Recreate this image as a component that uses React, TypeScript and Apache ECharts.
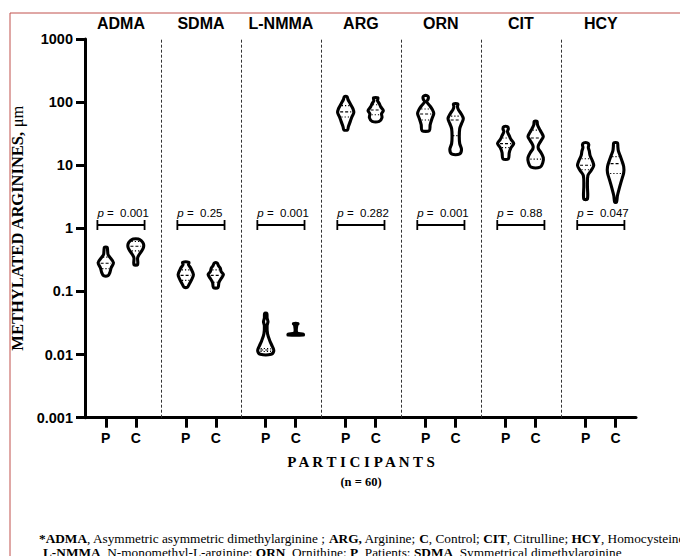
import React, { useEffect, useRef } from "react";
import * as echarts from "echarts";

// ---------- data ----------
const GROUPS = ["ADMA", "SDMA", "L-NMMA", "ARG", "ORN", "CIT", "HCY"];
const SIDES = ["P", "C"];
const P_VALUES = ["0.001", "0.25", "0.001", "0.282", "0.001", "0.88", "0.047"];
const Y_TICKS = [0.001, 0.01, 0.1, 1, 10, 100, 1000];
const Y_TICK_LABELS = ["0.001", "0.01", "0.1", "1", "10", "100", "1000"];

// violin outlines: [value (µm), relative density 0..1], top to bottom
const ADMA_P = [[0.5, 0.15], [0.443, 0.2], [0.383, 0.25], [0.356, 0.4], [0.286, 0.85], [0.238, 0.6], [0.199, 0.45], [0.178, 0.25]];
const ADMA_C = [[0.679, 0.3], [0.638, 0.6], [0.572, 0.85], [0.494, 0.85], [0.427, 0.6], [0.369, 0.3], [0.338, 0.2], [0.266, 0.2]];
const SDMA_P = [[0.289, 0.35], [0.266, 0.3], [0.235, 0.55], [0.185, 0.85], [0.154, 0.65], [0.128, 0.35], [0.117, 0.2]];
const SDMA_C = [[0.283, 0.15], [0.256, 0.3], [0.235, 0.5], [0.206, 0.6], [0.185, 0.85], [0.16, 0.6], [0.138, 0.35], [0.115, 0.25]];
const LNMMA_P = [[0.045, 0.12], [0.0379, 0.15], [0.0332, 0.25], [0.0287, 0.15], [0.0214, 0.2], [0.0166, 0.45], [0.0133, 0.75], [0.0115, 0.9], [0.0101, 0.6]];
const LNMMA_C = [[0.031, 0.25], [0.029, 0.12], [0.0222, 0.12], [0.021, 0.85], [0.0204, 0.85]];
const ARG_P = [[122, 0.15], [110, 0.25], [94.6, 0.5], [78.9, 0.8], [68.2, 0.9], [58.9, 0.7], [49.1, 0.5], [40.9, 0.3], [36.3, 0.2]];
const ARG_C = [[116.6, 0.25], [105.6, 0.2], [94.6, 0.4], [84.8, 0.55], [73.3, 0.85], [65.7, 0.65], [56.8, 0.7], [49.6, 0.4]];
const ORN_P = [[126.8, 0.15], [120, 0.3], [109.6, 0.25], [101.9, 0.1], [88, 0.45], [76.1, 0.75], [65.8, 0.9], [54.7, 0.7], [44, 0.5], [35.3, 0.4]];
const ORN_C = [[93.6, 0.25], [84.9, 0.2], [76.1, 0.3], [65.7, 0.6], [54.8, 0.85], [45.6, 0.65], [38, 0.45], [28.4, 0.4], [22, 0.45], [17.7, 0.65], [15, 0.4]];
const CIT_P = [[40.9, 0.2], [38, 0.3], [34.1, 0.2], [29.4, 0.4], [25.5, 0.6], [22, 0.9], [19, 0.6], [15.8, 0.4], [12.6, 0.3]];
const CIT_C = [[49.6, 0.15], [44, 0.2], [38, 0.4], [32.9, 0.65], [28.4, 0.85], [24.5, 0.6], [20.5, 0.3], [18.3, 0.3], [15.8, 0.6], [13.2, 0.85], [11, 0.8], [9.33, 0.5]];
const HCY_P = [[22.6, 0.2], [21.2, 0.35], [19, 0.3], [17, 0.4], [14.2, 0.5], [11.8, 0.75], [9.86, 0.9], [8.2, 0.6], [6.84, 0.25], [4.75, 0.2], [2.92, 0.2]];
const HCY_C = [[22.6, 0.2], [19.7, 0.25], [17, 0.3], [14.2, 0.5], [11.8, 0.7], [9.5, 0.9], [7.63, 0.9], [5.7, 0.65], [4.26, 0.4], [3.29, 0.2], [2.6, 0.1]];

const VIOLIN_PROFILES = [ADMA_P, ADMA_C, SDMA_P, SDMA_C, LNMMA_P, LNMMA_C, ARG_P, ARG_C, ORN_P, ORN_C, CIT_P, CIT_C, HCY_P, HCY_C];
// [q1, median, q3]
const VIOLIN_STATS = [
  [0.23, 0.28, 0.35], [0.44, 0.52, 0.62],
  [0.15, 0.18, 0.22], [0.14, 0.18, 0.22],
  [0.0112, 0.0118, 0.0125], [0.0205, 0.0205, 0.0205],
  [58, 70, 88], [63, 75, 91],
  [52, 65, 78], [29.5, 52, 60],
  [19, 22, 27], [12.5, 27, 36],
  [8.5, 10, 12.7], [7.4, 10.6, 13.7],
];

// ---------- layout constants ----------
const P_OFFSET = 0.31;
const C_OFFSET = 0.685;
const X_MIN = 0.05;
const X_MAX = 6.94;
const BRACKET_VALUE = 1.13;
const PTEXT_VALUE = 1.73;
const MAX_HALF = 9;
const SANS = "'Liberation Sans', Arial, Helvetica, sans-serif";
const SERIF = "'Liberation Serif', 'Times New Roman', serif";

const TICK_POS = GROUPS.flatMap((_, i) => [i + P_OFFSET, i + C_OFFSET]);
const GROUP_CENTERS = GROUPS.map((_, i) => i + 0.5);

function halfAt(profile: number[][], v: number) {
  const lv = Math.log10(v);
  for (let i = 0; i < profile.length - 1; i++) {
    const a = Math.log10(profile[i][0]);
    const b = Math.log10(profile[i + 1][0]);
    if (lv <= a && lv >= b) {
      const t = a === b ? 0 : (a - lv) / (a - b);
      return profile[i][1] + t * (profile[i + 1][1] - profile[i][1]);
    }
  }
  return 0;
}

export default function App() {
  const ref = useRef<HTMLDivElement>(null);
  useEffect(() => {
    if (!ref.current) return;
    const chart = echarts.init(ref.current, undefined, { renderer: "svg" });
    const violinData = GROUPS.flatMap((_, g) => SIDES.map((_, s) => [g + (s === 0 ? P_OFFSET : C_OFFSET), g, s]));
    const option: any = {
      animation: false,
      backgroundColor: "#fff",
      grid: { left: 85, right: 44, top: 39, bottom: 138.3, containLabel: false },
      xAxis: [
        {
          type: "value",
          min: X_MIN,
          max: X_MAX,
          position: "bottom",
          axisLine: { show: true, onZero: false, lineStyle: { color: "#000", width: 3 } },
          axisTick: { show: true, customValues: TICK_POS, length: 10, lineStyle: { color: "#000", width: 3 } },
          axisLabel: {
            customValues: TICK_POS,
            formatter: (v: number) => (v - Math.floor(v) < 0.5 ? SIDES[0] : SIDES[1]),
            fontFamily: SANS,
            fontWeight: "bold",
            fontSize: 14,
            color: "#000",
            margin: 13,
          },
          splitLine: { show: false },
        },
        {
          type: "value",
          min: X_MIN,
          max: X_MAX,
          position: "top",
          axisLine: { show: false },
          axisTick: { show: false },
          axisLabel: {
            customValues: GROUP_CENTERS,
            formatter: (v: number) => GROUPS[Math.floor(v)],
            fontFamily: SANS,
            fontWeight: "bold",
            fontSize: 16,
            color: "#000",
            margin: 8,
          },
          splitLine: { show: false },
        },
      ],
      yAxis: {
        type: "log",
        logBase: 10,
        min: 0.001,
        max: 1000,
        axisLine: { show: true, lineStyle: { color: "#000", width: 3 } },
        axisTick: { show: true, customValues: Y_TICKS, length: 9, lineStyle: { color: "#000", width: 3 } },
        axisLabel: {
          customValues: Y_TICKS,
          formatter: (v: number) => {
            const k = Y_TICKS.findIndex((t) => Math.abs(Math.log10(t) - Math.log10(v)) < 1e-6);
            return k >= 0 ? Y_TICK_LABELS[k] : String(v);
          },
          fontFamily: SANS,
          fontWeight: "bold",
          fontSize: 14.5,
          color: "#000",
          margin: 12,
        },
        splitLine: { show: false },
        name: "{b|METHYLATED ARGININES, }{r|μm}",
        nameLocation: "middle",
        nameRotate: 90,
        nameGap: 54,
        nameTextStyle: {
          rich: {
            b: { fontFamily: SERIF, fontWeight: "bold", fontSize: 16.5, color: "#000" },
            r: { fontFamily: SERIF, fontWeight: "normal", fontSize: 16.5, color: "#000" },
          },
        },
      },
      series: [
        {
          type: "custom",
          xAxisIndex: 0,
          data: violinData,
          renderItem: (params: any, api: any) => {
            const i = params.dataIndex;
            const prof = VIOLIN_PROFILES[i];
            const xv = api.value(0);
            const xc = api.coord([xv, 1])[0];
            const right = prof.map(([v, d]) => [xc + d * MAX_HALF, api.coord([xv, v])[1]]);
            const left = prof.map(([v, d]) => [xc - d * MAX_HALF, api.coord([xv, v])[1]]).reverse();
            const children: any[] = [
              {
                type: "polygon",
                shape: { points: [...right, ...left], smooth: 0.3 },
                style: { fill: "#fff", stroke: "#000", lineWidth: 3.1, lineJoin: "round" },
              },
            ];
            VIOLIN_STATS[i].forEach((v, k) => {
              const hw = halfAt(prof, v) * MAX_HALF * 0.7;
              if (hw < 2) return;
              const y = api.coord([xv, v])[1];
              children.push({
                type: "line",
                shape: { x1: xc - hw, y1: y, x2: xc + hw, y2: y },
                style: { stroke: "#000", lineWidth: 1.1, lineDash: k === 1 ? [3, 2] : [1.2, 2] },
              });
            });
            return { type: "group", children };
          },
          markLine: {
            silent: true,
            symbol: ["none", "none"],
            label: { show: false },
            lineStyle: { color: "#333", width: 1, type: [3, 2] },
            data: [1, 2, 3, 4, 5, 6].map((x) => ({ xAxis: x })),
          },
          z: 3,
        },
        {
          type: "custom",
          xAxisIndex: 0,
          data: GROUPS.map((_, g) => [g]),
          renderItem: (params: any, api: any) => {
            const g = api.value(0);
            const p1 = api.coord([g + 0.205, BRACKET_VALUE]);
            const x2 = api.coord([g + 0.795, BRACKET_VALUE])[0];
            const x1 = p1[0];
            const y = p1[1];
            const ty = api.coord([g + 0.205, PTEXT_VALUE])[1];
            const ls = { stroke: "#000", lineWidth: 1.8 };
            return {
              type: "group",
              children: [
                { type: "line", shape: { x1, y1: y, x2, y2: y }, style: ls },
                { type: "line", shape: { x1, y1: y - 5, x2: x1, y2: y + 5 }, style: ls },
                { type: "line", shape: { x1: x2, y1: y - 5, x2, y2: y + 5 }, style: ls },
                {
                  type: "text",
                  x: x1,
                  y: ty,
                  style: {
                    text: `{i|p}{n| =  ${P_VALUES[g]}}`,
                    rich: {
                      i: { fontStyle: "italic", fontSize: 11.5, fontFamily: SANS, fill: "#000" },
                      n: { fontSize: 11.5, fontFamily: SANS, fill: "#000" },
                    },
                    align: "left",
                    verticalAlign: "middle",
                    fill: "#000",
                  },
                },
              ],
            };
          },
          z: 4,
        },
      ],
      graphic: [
        {
          type: "rect",
          silent: true,
          shape: { x: 10, y: 13, width: 720, height: 600 },
          style: { fill: "none", stroke: "#c0504d", lineWidth: 1 },
          z: -10,
        },
        {
          type: "text",
          x: 361,
          y: 462,
          style: {
            text: "P A R T I C I P A N T S",
            fontFamily: SERIF,
            fontWeight: "bold",
            fontSize: 15,
            fill: "#000",
            align: "center",
            verticalAlign: "middle",
          },
        },
        {
          type: "text",
          x: 361,
          y: 481.5,
          style: {
            text: "(n = 60)",
            fontFamily: SERIF,
            fontWeight: "bold",
            fontSize: 12.5,
            fill: "#000",
            align: "center",
            verticalAlign: "middle",
          },
        },
        {
          type: "text",
          x: 39,
          y: 538,
          style: {
            text:
              "{b|*ADMA}{r|, Asymmetric asymmetric dimethylarginine ; }{b|ARG,}{r| Arginine; }{b|C}{r|, Control; }{b|CIT}{r|, Citrulline; }{b|HCY}{r|, Homocysteine;}",
            rich: {
              b: { fontFamily: SERIF, fontWeight: "bold", fontSize: 13.3, fill: "#000" },
              r: { fontFamily: SERIF, fontWeight: "normal", fontSize: 13.3, fill: "#000" },
            },
            align: "left",
            verticalAlign: "middle",
          },
        },
        {
          type: "text",
          x: 43,
          y: 552,
          style: {
            text:
              "{b|L-NMMA}{r|, N-monomethyl-L-arginine; }{b|ORN}{r|, Ornithine; }{b|P}{r|, Patients; }{b|SDMA}{r|, Symmetrical dimethylarginine}",
            rich: {
              b: { fontFamily: SERIF, fontWeight: "bold", fontSize: 13.3, fill: "#000" },
              r: { fontFamily: SERIF, fontWeight: "normal", fontSize: 13.3, fill: "#000" },
            },
            align: "left",
            verticalAlign: "middle",
          },
        },
      ],
    };
    chart.setOption(option);
    return () => chart.dispose();
  }, []);
  return (
    <div
      ref={ref}
      style={{ position: "fixed", left: 0, top: 0, width: 680, height: 556, background: "#fff" }}
    />
  );
}
